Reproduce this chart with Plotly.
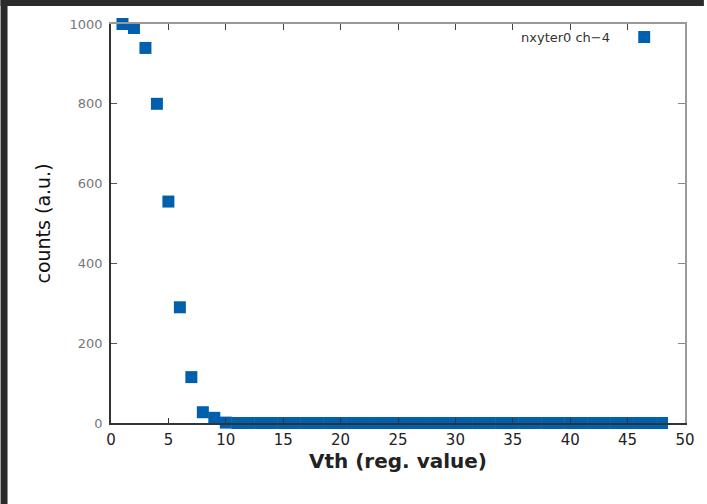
import plotly.graph_objects as go

vth = list(range(1, 49))
counts = [1000, 990, 940, 800, 555, 290, 115, 27, 13, 1] + [0] * 38
x_ticks = list(range(0, 51, 5))
y_ticks = list(range(0, 1001, 200))
legend_label = "nxyter0 ch\u22124"

W, H = 707, 504
L, R, T, B = 111, 19, 24, 81
pw, ph = W - L - R, H - T - B

def px(xp):
    return (xp - L) / pw

def py(yp):
    return (H - B - yp) / ph

fig = go.Figure()
fig.add_trace(go.Scatter(
    x=vth, y=counts, mode="markers",
    marker=dict(symbol="square", size=12, color="#0060ad", line=dict(width=0)),
    cliponaxis=False, showlegend=False, name=legend_label,
))
fig.add_trace(go.Scatter(x=[None], y=[None], xaxis="x2", yaxis="y2", showlegend=False))

font = "DejaVu Sans"
fig.update_layout(
    width=W, height=H,
    margin=dict(l=L, r=R, t=T, b=B),
    paper_bgcolor="white", plot_bgcolor="white",
    xaxis=dict(range=[0, 50], tickvals=x_ticks, ticks="inside", ticklen=5, tickwidth=1,
               tickcolor="#333", showline=True, linecolor="#333", linewidth=1.5,
               showgrid=False, zeroline=False,
               tickfont=dict(family=font, size=15, color="#222"), ticklabelstandoff=2,
               title=dict(text="<b>Vth (reg. value)</b>", font=dict(family=font, size=20, color="#222"),
                          standoff=4)),
    yaxis=dict(range=[0, 1000], tickvals=y_ticks, ticks="inside", ticklen=6, tickwidth=1,
               tickcolor="#555", showline=True, linecolor="#333", linewidth=1.5,
               showgrid=False, zeroline=False,
               tickfont=dict(family=font, size=13, color="#777"), ticklabelstandoff=4,
               title=dict(text="counts (a.u.)", font=dict(family=font, size=19, color="#111"),
                          standoff=14)),
    xaxis2=dict(range=[0, 50], tickvals=x_ticks, overlaying="x", side="top", anchor="y",
                ticks="inside", ticklen=6, tickcolor="#444", showline=True, linecolor="#999",
                linewidth=1.5, showticklabels=False, showgrid=False, zeroline=False),
    yaxis2=dict(range=[0, 1000], tickvals=y_ticks, overlaying="y", side="right", anchor="x",
                ticks="inside", ticklen=7, tickcolor="#888", showline=True, linecolor="#999",
                linewidth=1.5, showticklabels=False, showgrid=False, zeroline=False),
    showlegend=False,
)

fig.add_annotation(xref="paper", yref="paper", x=px(615), y=py(37), xanchor="right", yanchor="middle",
                   text=legend_label, showarrow=False, font=dict(family=font, size=13, color="#333"))
fig.add_shape(type="rect", xref="paper", yref="paper", x0=px(641), x1=px(653), y0=py(43), y1=py(31),
              fillcolor="#0060ad", line=dict(width=0))

dark = "#2b2b2b"
fig.add_shape(type="rect", xref="paper", yref="paper", x0=px(0), x1=px(W), y0=py(6), y1=py(0),
              fillcolor=dark, line=dict(width=0), layer="above")
fig.add_shape(type="rect", xref="paper", yref="paper", x0=px(0), x1=px(7), y0=py(H), y1=py(0),
              fillcolor=dark, line=dict(width=0), layer="above")

fig.write_html("out.html")
